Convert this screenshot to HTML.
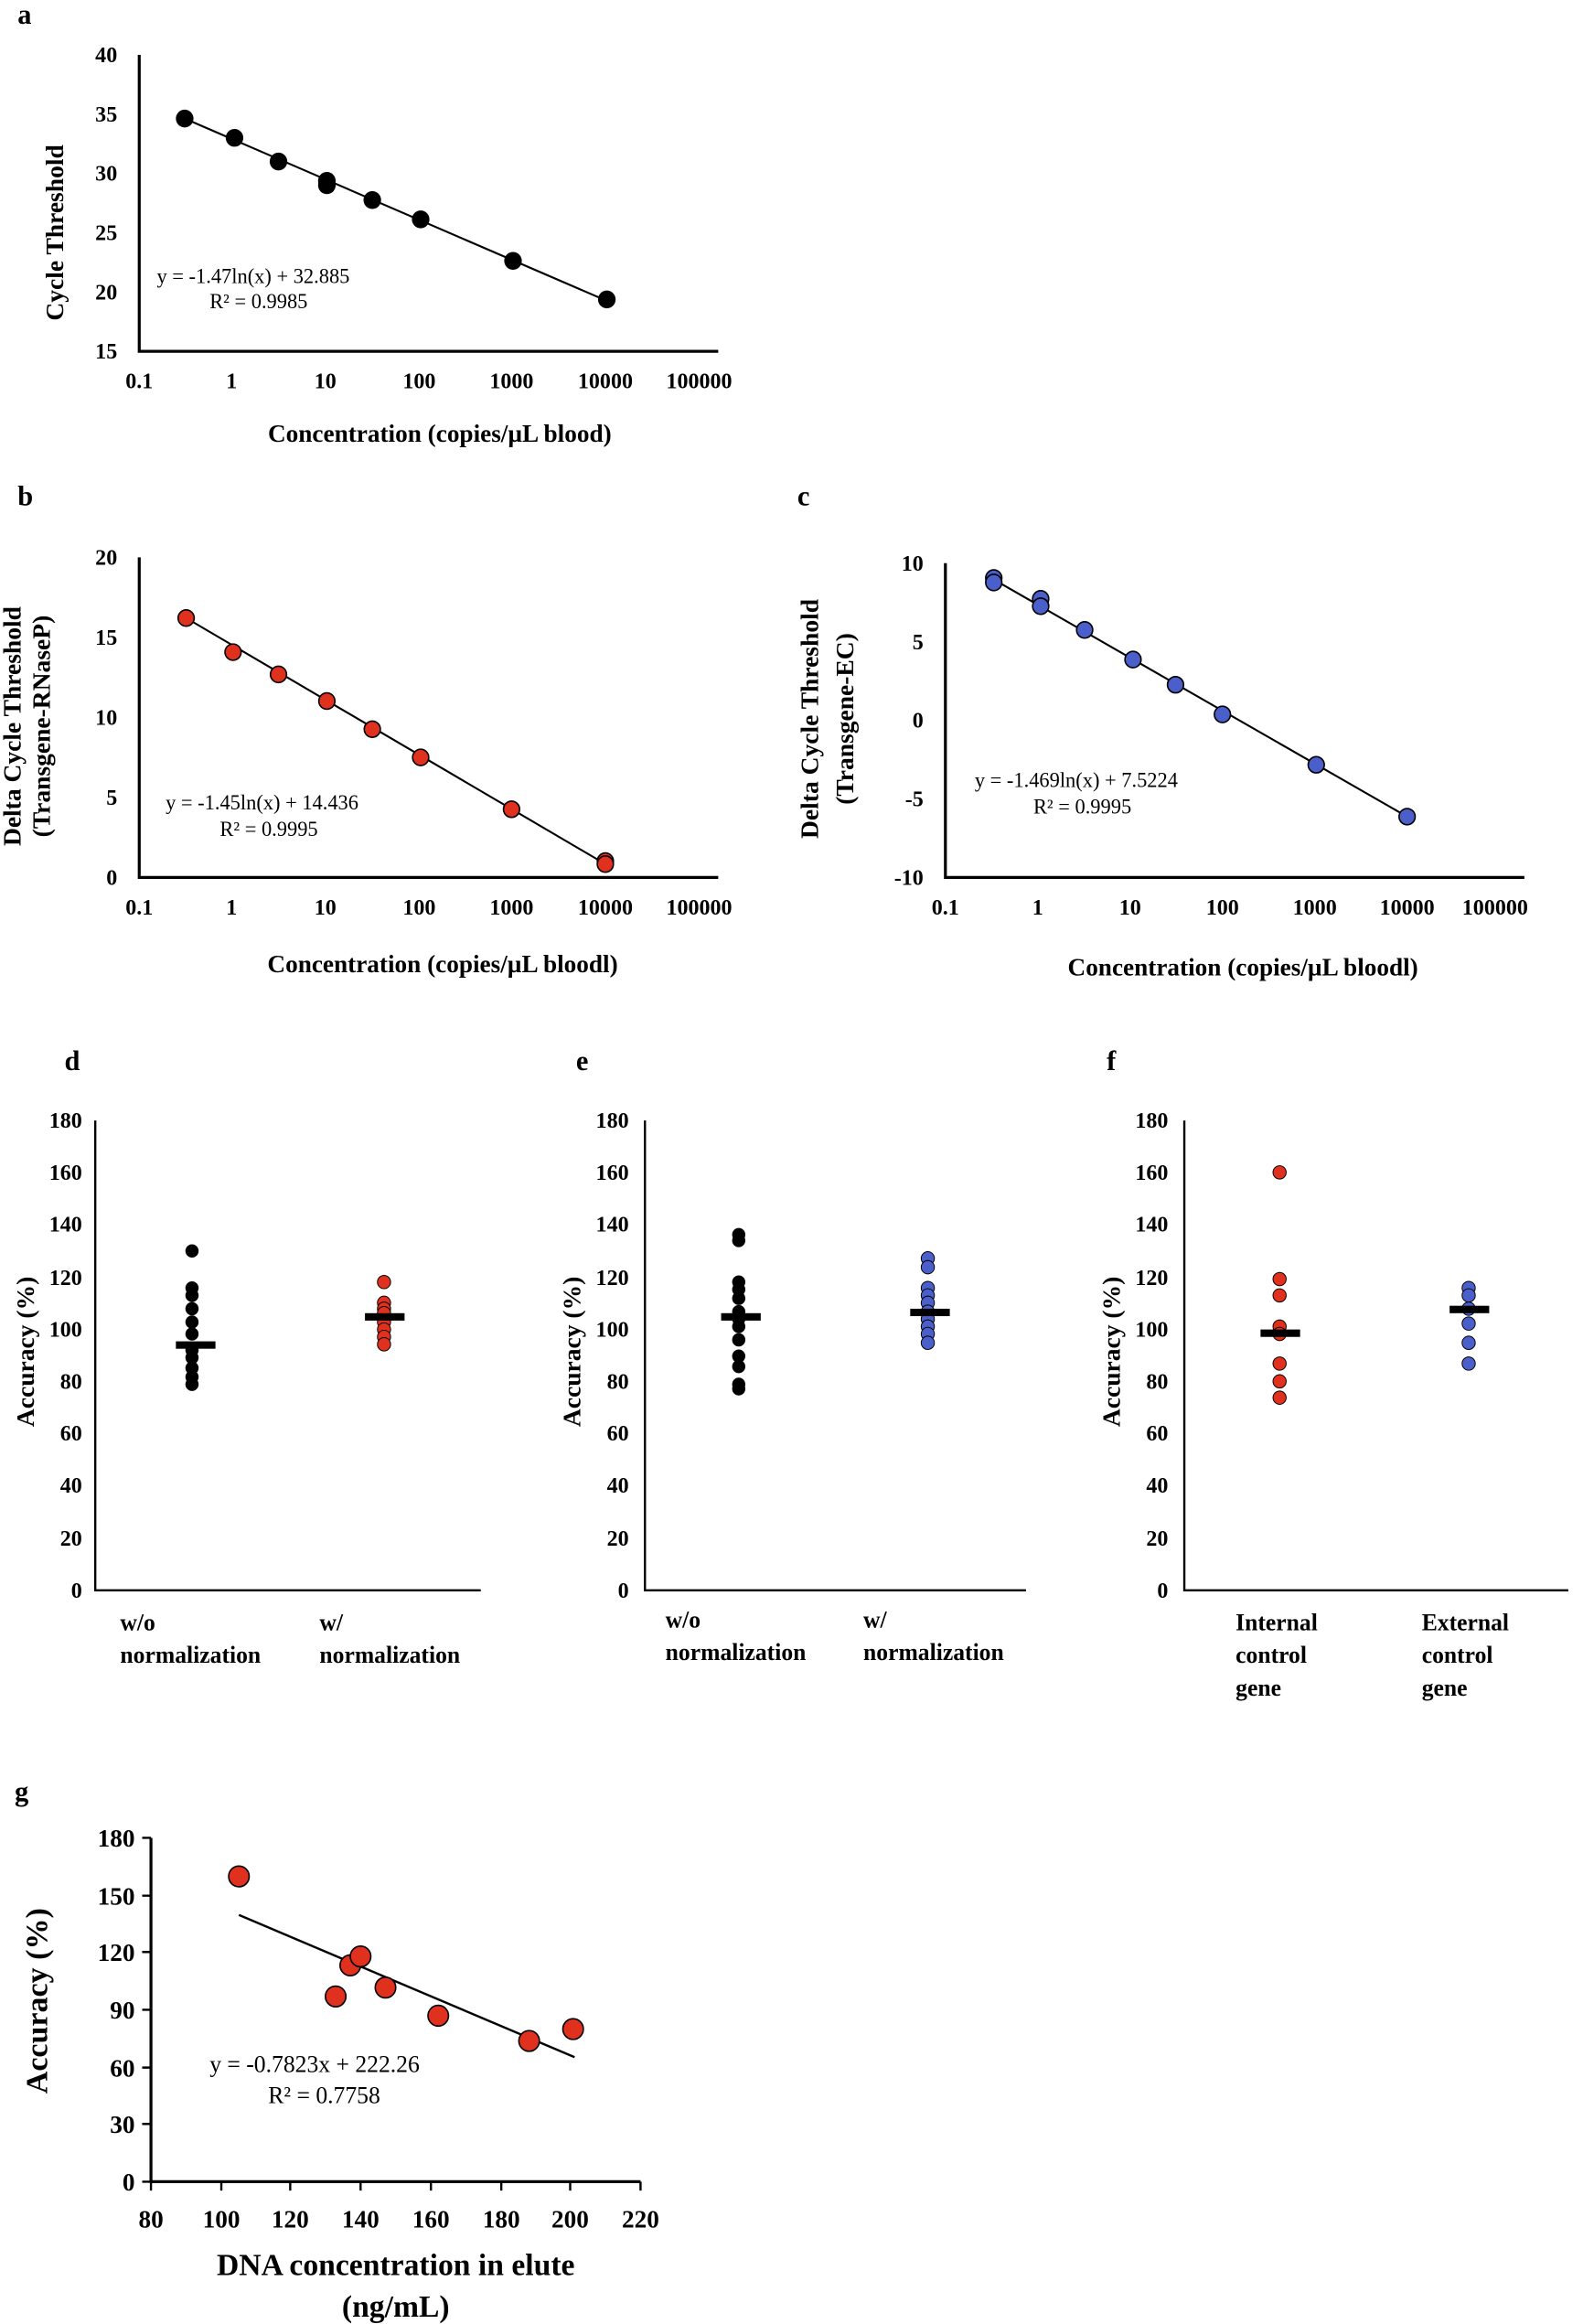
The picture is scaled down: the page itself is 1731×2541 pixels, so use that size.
<!DOCTYPE html>
<html><head><meta charset="utf-8"><style>
html,body{margin:0;padding:0;background:#fff;}
svg{display:block;}
text{font-family:"Liberation Serif",serif;fill:#000;}
.t{font-weight:bold;font-size:15px;}
.ti{font-weight:bold;font-size:17px;}
.eq{font-size:14px;}
.lb{font-weight:bold;font-size:19px;}
</style></head><body>
<svg width="1731" height="2541" viewBox="0 0 1080 1568" preserveAspectRatio="none" xmlns="http://www.w3.org/2000/svg">
<!-- Panel a -->
<text class="lb" x="12" y="16">a</text>
<g stroke="#000" stroke-width="2" fill="none"><path d="M95 37V237H490"/></g>
<g class="t" text-anchor="end"><text x="80" y="42">40</text><text x="80" y="82">35</text><text x="80" y="122">30</text><text x="80" y="162">25</text><text x="80" y="202">20</text><text x="80" y="242">15</text></g>
<g class="t" text-anchor="middle"><text x="95" y="262">0.1</text><text x="158" y="262">1</text><text x="222" y="262">10</text><text x="286" y="262">100</text><text x="349" y="262">1000</text><text x="413" y="262">10000</text><text x="477" y="262">100000</text></g>
<line x1="126" y1="80" x2="414" y2="203" stroke="#000" stroke-width="1.3"/>
<g fill="#000"><circle cx="126" cy="80" r="6"/><circle cx="160" cy="93" r="6"/><circle cx="190" cy="109" r="6"/><circle cx="223" cy="122" r="6"/><circle cx="223" cy="125" r="6"/><circle cx="254" cy="135" r="6"/><circle cx="287" cy="148" r="6"/><circle cx="350" cy="176" r="6"/><circle cx="414" cy="202" r="6"/></g>
<text class="eq" x="107" y="191">y = -1.47ln(x)  + 32.885</text><text class="eq" x="143" y="208">R² = 0.9985</text>
<text class="ti" transform="translate(43,157) rotate(-90)" text-anchor="middle">Cycle Threshold</text>
<text class="ti" x="300" y="298" text-anchor="middle">Concentration (copies/µL blood)</text>

<!-- Panel b -->
<text class="lb" x="12" y="341">b</text>
<path d="M95 376V592H490" stroke="#000" stroke-width="2" fill="none"/>
<g class="t" text-anchor="end"><text x="80" y="381">20</text><text x="80" y="435">15</text><text x="80" y="489">10</text><text x="80" y="543">5</text><text x="80" y="597">0</text></g>
<g class="t" text-anchor="middle"><text x="95" y="617">0.1</text><text x="158" y="617">1</text><text x="222" y="617">10</text><text x="286" y="617">100</text><text x="349" y="617">1000</text><text x="413" y="617">10000</text><text x="477" y="617">100000</text></g>
<line x1="127" y1="417" x2="413" y2="583" stroke="#000" stroke-width="1.3"/>
<g fill="#e0301e" stroke="#000" stroke-width="1"><circle cx="127" cy="417" r="5.5"/><circle cx="159" cy="440" r="5.5"/><circle cx="190" cy="455" r="5.5"/><circle cx="223" cy="473" r="5.5"/><circle cx="254" cy="492" r="5.5"/><circle cx="287" cy="511" r="5.5"/><circle cx="349" cy="546" r="5.5"/><circle cx="413" cy="581" r="5.5"/><circle cx="413" cy="583" r="5.5"/></g>
<text class="eq" x="113" y="546">y = -1.45ln(x)  + 14.436</text><text class="eq" x="150" y="564">R² = 0.9995</text>
<text class="ti" transform="translate(14,490) rotate(-90)" text-anchor="middle">Delta Cycle Threshold</text>
<text class="ti" transform="translate(34,490) rotate(-90)" text-anchor="middle">(Transgene-RNaseP)</text>
<text class="ti" x="302" y="656" text-anchor="middle">Concentration (copies/µL bloodl)</text>

<!-- Panel c -->
<text class="lb" x="544" y="341">c</text>
<path d="M645 380V592H1040" stroke="#000" stroke-width="2" fill="none"/>
<g class="t" text-anchor="end"><text x="630" y="385">10</text><text x="630" y="438">5</text><text x="630" y="491">0</text><text x="630" y="544">-5</text><text x="630" y="597">-10</text></g>
<g class="t" text-anchor="middle"><text x="645" y="617">0.1</text><text x="708" y="617">1</text><text x="771" y="617">10</text><text x="834" y="617">100</text><text x="897" y="617">1000</text><text x="960" y="617">10000</text><text x="1020" y="617">100000</text></g>
<line x1="678" y1="391" x2="960" y2="551" stroke="#000" stroke-width="1.3"/>
<g fill="#4a5fc9" stroke="#000" stroke-width="1"><circle cx="678" cy="390" r="5.5"/><circle cx="678" cy="393" r="5.5"/><circle cx="710" cy="404" r="5.5"/><circle cx="710" cy="409" r="5.5"/><circle cx="740" cy="425" r="5.5"/><circle cx="773" cy="445" r="5.5"/><circle cx="802" cy="462" r="5.5"/><circle cx="834" cy="482" r="5.5"/><circle cx="898" cy="516" r="5.5"/><circle cx="960" cy="551" r="5.5"/></g>
<text class="eq" x="665" y="531">y = -1.469ln(x) + 7.5224</text><text class="eq" x="705" y="549">R² = 0.9995</text>
<text class="ti" transform="translate(558,485) rotate(-90)" text-anchor="middle">Delta Cycle Threshold</text>
<text class="ti" transform="translate(582,485) rotate(-90)" text-anchor="middle">(Transgene-EC)</text>
<text class="ti" x="848" y="658" text-anchor="middle">Concentration (copies/µL bloodl)</text>

<!-- Panel d -->
<text class="lb" x="44" y="722">d</text>
<path d="M65 756V1073H328" stroke="#000" stroke-width="1.5" fill="none"/>
<g class="t" text-anchor="end"><text x="56" y="761">180</text><text x="56" y="796">160</text><text x="56" y="831">140</text><text x="56" y="867">120</text><text x="56" y="902">100</text><text x="56" y="937">80</text><text x="56" y="972">60</text><text x="56" y="1007">40</text><text x="56" y="1043">20</text><text x="56" y="1078">0</text></g>
<text class="ti" transform="translate(23,912) rotate(-90)" text-anchor="middle">Accuracy (%)</text>
<g fill="#000"><circle cx="131" cy="844" r="4.5"/><circle cx="131" cy="869" r="4.5"/><circle cx="131" cy="874" r="4.5"/><circle cx="131" cy="883" r="4.5"/><circle cx="131" cy="892" r="4.5"/><circle cx="131" cy="900" r="4.5"/><circle cx="131" cy="911" r="4.5"/><circle cx="131" cy="916" r="4.5"/><circle cx="131" cy="923" r="4.5"/><circle cx="131" cy="929" r="4.5"/><circle cx="131" cy="934" r="4.5"/></g>
<rect x="120" y="905" width="27" height="5" fill="#000"/>
<g fill="#e0301e" stroke="#000" stroke-width="0.6"><circle cx="262" cy="865" r="4.5"/><circle cx="262" cy="879" r="4.5"/><circle cx="262" cy="883" r="4.5"/><circle cx="262" cy="886" r="4.5"/><circle cx="262" cy="892" r="4.5"/><circle cx="262" cy="897" r="4.5"/><circle cx="262" cy="902" r="4.5"/><circle cx="262" cy="907" r="4.5"/></g>
<rect x="249" y="886" width="27" height="5" fill="#000"/>
<g class="ti" style="font-size:16px"><text x="82" y="1100">w/o</text><text x="82" y="1122">normalization</text><text x="218" y="1100">w/</text><text x="218" y="1122">normalization</text></g>

<!-- Panel e -->
<text class="lb" x="393" y="722">e</text>
<path d="M440 756V1073H700" stroke="#000" stroke-width="1.5" fill="none"/>
<g class="t" text-anchor="end"><text x="429" y="761">180</text><text x="429" y="796">160</text><text x="429" y="831">140</text><text x="429" y="867">120</text><text x="429" y="902">100</text><text x="429" y="937">80</text><text x="429" y="972">60</text><text x="429" y="1007">40</text><text x="429" y="1043">20</text><text x="429" y="1078">0</text></g>
<text class="ti" transform="translate(396,912) rotate(-90)" text-anchor="middle">Accuracy (%)</text>
<g fill="#000"><circle cx="504" cy="833" r="4.5"/><circle cx="504" cy="837" r="4.5"/><circle cx="504" cy="865" r="4.5"/><circle cx="504" cy="870" r="4.5"/><circle cx="504" cy="876" r="4.5"/><circle cx="504" cy="885" r="4.5"/><circle cx="504" cy="890" r="4.5"/><circle cx="504" cy="895" r="4.5"/><circle cx="504" cy="904" r="4.5"/><circle cx="504" cy="915" r="4.5"/><circle cx="504" cy="922" r="4.5"/><circle cx="504" cy="934" r="4.5"/><circle cx="504" cy="937" r="4.5"/></g>
<rect x="492" y="886" width="27" height="5" fill="#000"/>
<g fill="#4a5fc9" stroke="#000" stroke-width="0.6"><circle cx="633" cy="849" r="4.5"/><circle cx="633" cy="855" r="4.5"/><circle cx="633" cy="869" r="4.5"/><circle cx="633" cy="874" r="4.5"/><circle cx="633" cy="879" r="4.5"/><circle cx="633" cy="885" r="4.5"/><circle cx="633" cy="890" r="4.5"/><circle cx="633" cy="895" r="4.5"/><circle cx="633" cy="900" r="4.5"/><circle cx="633" cy="906" r="4.5"/></g>
<rect x="621" y="883" width="27" height="5" fill="#000"/>
<g class="ti" style="font-size:16px"><text x="454" y="1098">w/o</text><text x="454" y="1120">normalization</text><text x="589" y="1098">w/</text><text x="589" y="1120">normalization</text></g>

<!-- Panel f -->
<text class="lb" x="755" y="722">f</text>
<path d="M808 756V1073H1070" stroke="#000" stroke-width="1.5" fill="none"/>
<g class="t" text-anchor="end"><text x="797" y="761">180</text><text x="797" y="796">160</text><text x="797" y="831">140</text><text x="797" y="867">120</text><text x="797" y="902">100</text><text x="797" y="937">80</text><text x="797" y="972">60</text><text x="797" y="1007">40</text><text x="797" y="1043">20</text><text x="797" y="1078">0</text></g>
<text class="ti" transform="translate(764,912) rotate(-90)" text-anchor="middle">Accuracy (%)</text>
<g fill="#e0301e" stroke="#000" stroke-width="0.6"><circle cx="873" cy="791" r="4.5"/><circle cx="873" cy="863" r="4.5"/><circle cx="873" cy="874" r="4.5"/><circle cx="873" cy="895" r="4.5"/><circle cx="873" cy="900" r="4.5"/><circle cx="873" cy="920" r="4.5"/><circle cx="873" cy="932" r="4.5"/><circle cx="873" cy="943" r="4.5"/></g>
<rect x="860" y="897" width="27" height="5" fill="#000"/>
<g fill="#4a5fc9" stroke="#000" stroke-width="0.6"><circle cx="1002" cy="869" r="4.5"/><circle cx="1002" cy="874" r="4.5"/><circle cx="1002" cy="883" r="4.5"/><circle cx="1002" cy="893" r="4.5"/><circle cx="1002" cy="906" r="4.5"/><circle cx="1002" cy="920" r="4.5"/></g>
<rect x="989" y="881" width="27" height="5" fill="#000"/>
<g class="ti" style="font-size:16px"><text x="843" y="1100">Internal</text><text x="843" y="1122">control</text><text x="843" y="1144">gene</text><text x="970" y="1100">External</text><text x="970" y="1122">control</text><text x="970" y="1144">gene</text></g>

<!-- Panel g -->
<text class="lb" x="10" y="1215">g</text>
<path d="M103 1240V1472H437" stroke="#000" stroke-width="2" fill="none"/>
<g stroke="#000" stroke-width="1.5"><path d="M97 1240H103M97 1279H103M97 1317H103M97 1356H103M97 1395H103M97 1433H103M97 1472H103"/><path d="M103 1472V1478M151 1472V1478M198 1472V1478M246 1472V1478M294 1472V1478M342 1472V1478M389 1472V1478M437 1472V1478"/></g>
<g class="t" style="font-size:17px" text-anchor="end"><text x="92" y="1246">180</text><text x="92" y="1285">150</text><text x="92" y="1323">120</text><text x="92" y="1362">90</text><text x="92" y="1401">60</text><text x="92" y="1439">30</text><text x="92" y="1478">0</text></g>
<g class="t" style="font-size:17px" text-anchor="middle"><text x="103" y="1503">80</text><text x="151" y="1503">100</text><text x="198" y="1503">120</text><text x="246" y="1503">140</text><text x="294" y="1503">160</text><text x="342" y="1503">180</text><text x="389" y="1503">200</text><text x="437" y="1503">220</text></g>
<line x1="163" y1="1292" x2="392" y2="1388" stroke="#000" stroke-width="1.5"/>
<g fill="#e0301e" stroke="#000" stroke-width="1"><circle cx="163" cy="1266" r="7"/><circle cx="229" cy="1347" r="7"/><circle cx="239" cy="1326" r="7"/><circle cx="246" cy="1320" r="7"/><circle cx="263" cy="1341" r="7"/><circle cx="299" cy="1360" r="7"/><circle cx="361" cy="1377" r="7"/><circle cx="391" cy="1369" r="7"/></g>
<text class="eq" style="font-size:16px" x="143" y="1398">y = -0.7823x + 222.26</text><text class="eq" style="font-size:16px" x="183" y="1419">R² = 0.7758</text>
<text class="ti" style="font-size:21px" transform="translate(32,1350) rotate(-90)" text-anchor="middle">Accuracy (%)</text>
<text class="ti" style="font-size:21px" x="270" y="1535" text-anchor="middle">DNA concentration in elute</text>
<text class="ti" style="font-size:21px" x="270" y="1563" text-anchor="middle">(ng/mL)</text>
</svg>
</body></html>
